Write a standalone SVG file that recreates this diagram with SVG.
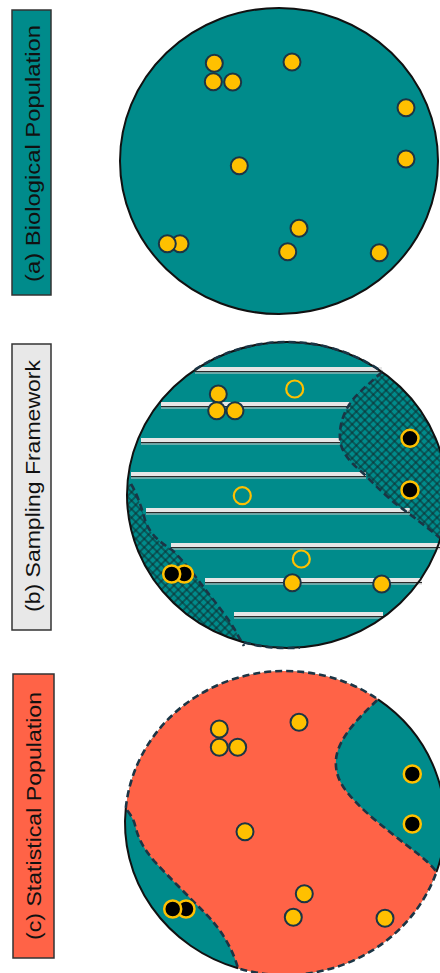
<svg xmlns="http://www.w3.org/2000/svg" width="440" height="973" viewBox="0 0 440 973">
<style>
.lbl{stroke:#333;stroke-width:1.5}
.lt{font-family:"Liberation Sans",Arial,sans-serif;font-size:20.5px;fill:#111;text-anchor:middle;dominant-baseline:central}
.teal{fill:#008b8b}
.edge{fill:none;stroke:#111;stroke-width:2}
.dash{fill:none;stroke:#1b3545;stroke-width:2.6;stroke-dasharray:7 4}
.red{fill:#ff6347;stroke:#1b3545;stroke-width:2.6;stroke-dasharray:7 4}
.g{fill:#ffc000;stroke:#1b3545;stroke-width:2}
.b{fill:#000;stroke:#ffc000;stroke-width:2.5}
.o{fill:none;stroke:#ffc000;stroke-width:2.2}
.bar{fill:#e6e6e6}
.bl{stroke:#2a2a2a;stroke-width:1.2}
.bl2{stroke:#cfcfcf;stroke-width:1}
</style>
<defs>
<pattern id="hatch" width="6" height="6" patternUnits="userSpaceOnUse" patternTransform="rotate(45)">
<path d="M0,3H6M3,0V6" stroke="#10282a" stroke-width="1"/>
</pattern>
<clipPath id="cb"><ellipse cx="287" cy="495" rx="160" ry="153"/></clipPath>
</defs>

<g id="label-a">
<rect class="lbl" x="12" y="10" width="39" height="285" fill="#008b8b"/>
<text class="lt" transform="translate(32,153.5) rotate(-90)" textLength="257" lengthAdjust="spacingAndGlyphs">(a) Biological Population</text>
</g>
<g id="label-b">
<rect class="lbl" x="12" y="344" width="39" height="286" fill="#e8e8e8"/>
<text class="lt" transform="translate(32,486) rotate(-90)" textLength="252" lengthAdjust="spacingAndGlyphs">(b) Sampling Framework</text>
</g>
<g id="label-c">
<rect class="lbl" x="13" y="674" width="41" height="284" fill="#ff6347"/>
<text class="lt" transform="translate(33.5,816) rotate(-90)" textLength="248" lengthAdjust="spacingAndGlyphs">(c) Statistical Population</text>
</g>

<g id="panel-a">
<ellipse class="teal" cx="279" cy="161" rx="159" ry="153" stroke="#111" stroke-width="2"/>
<circle class="g" cx="214.3" cy="63.3" r="8.5"/>
<circle class="g" cx="232.7" cy="82" r="8.5"/>
<circle class="g" cx="213.3" cy="81.7" r="8.5"/>
<circle class="g" cx="292" cy="62" r="8.5"/>
<circle class="g" cx="406" cy="107.7" r="8.5"/>
<circle class="g" cx="406" cy="159" r="8.5"/>
<circle class="g" cx="239.3" cy="165.7" r="8.5"/>
<circle class="g" cx="299" cy="228.3" r="8.5"/>
<circle class="g" cx="287.7" cy="251.7" r="8.5"/>
<circle class="g" cx="379.3" cy="252.7" r="8.5"/>
<circle class="g" cx="180" cy="243.7" r="8.5"/>
<circle class="g" cx="167.3" cy="243.7" r="8.5"/>
</g>

<g id="panel-b">
<ellipse class="teal" cx="287" cy="495" rx="160" ry="153"/>
<g id="stripes">
<rect class="bar" x="195" y="367" width="187" height="4"/><line class="bl" x1="195" y1="371.6" x2="382" y2="371.6"/><line class="bl2" x1="195" y1="373" x2="382" y2="373"/>
<rect class="bar" x="161" y="402" width="189" height="4"/><line class="bl" x1="161" y1="406.6" x2="350" y2="406.6"/><line class="bl2" x1="161" y1="408" x2="350" y2="408"/>
<rect class="bar" x="141" y="438" width="199" height="4"/><line class="bl" x1="141" y1="442.6" x2="340" y2="442.6"/><line class="bl2" x1="141" y1="444" x2="340" y2="444"/>
<rect class="bar" x="131" y="472" width="235" height="4"/><line class="bl" x1="131" y1="476.6" x2="366" y2="476.6"/><line class="bl2" x1="131" y1="478" x2="366" y2="478"/>
<rect class="bar" x="146" y="508" width="264" height="4"/><line class="bl" x1="146" y1="512.6" x2="410" y2="512.6"/><line class="bl2" x1="146" y1="514" x2="410" y2="514"/>
<rect class="bar" x="171" y="543" width="269" height="4"/><line class="bl" x1="171" y1="547.6" x2="440" y2="547.6"/><line class="bl2" x1="171" y1="549" x2="440" y2="549"/>
<rect class="bar" x="205" y="578" width="217" height="4"/><line class="bl" x1="205" y1="582.6" x2="422" y2="582.6"/><line class="bl2" x1="205" y1="584" x2="422" y2="584"/>
<rect class="bar" x="234" y="612" width="149" height="4"/><line class="bl" x1="234" y1="616.6" x2="383" y2="616.6"/><line class="bl2" x1="234" y1="618" x2="383" y2="618"/>
</g>
<g clip-path="url(#cb)">
<path fill="url(#hatch)" d="M382,372 C368,385 355,395 349,405 C341,418 338,432 341,445 C345,458 355,466 365,475 C377,487 388,498 400,507 C415,518 428,528 440,538 L460,538 L460,340 L382,340 Z"/>
<path fill="url(#hatch)" d="M131,484 C136,492 141,505 145,520 C150,535 160,542 172,550 C183,560 195,576 205,589 C215,602 228,618 235,630 C238,636 242,642 244,646 L244,660 L110,660 L110,484 Z"/>
</g>
<path class="dash" d="M382,372 C368,385 355,395 349,405 C341,418 338,432 341,445 C345,458 355,466 365,475 C377,487 388,498 400,507 C415,518 428,528 440,538"/>
<path class="dash" d="M131,484 C136,492 141,505 145,520 C150,535 160,542 172,550 C183,560 195,576 205,589 C215,602 228,618 235,630 C238,636 242,642 244,646"/>
<ellipse class="edge" cx="287" cy="495" rx="160" ry="153"/>
<path class="dash" d="M195,369.8 A160,153 0 0 1 382,371.9"/>
<path class="dash" d="M244,642.4 A160,153 0 0 0 300,647.5"/>
<circle class="g" cx="218.3" cy="394" r="8.5"/>
<circle class="g" cx="235" cy="410.7" r="8.5"/>
<circle class="g" cx="216.7" cy="410.7" r="8.5"/>
<circle class="g" cx="292.3" cy="582.7" r="8.5"/>
<circle class="g" cx="381.7" cy="584" r="8.5"/>
<circle class="o" cx="294.7" cy="389" r="8.5"/>
<circle class="o" cx="242.3" cy="495.7" r="8.5"/>
<circle class="o" cx="301.3" cy="559" r="8.5"/>
<circle class="b" cx="410" cy="438.3" r="8.5"/>
<circle class="b" cx="410" cy="490" r="8.5"/>
<circle class="b" cx="184.3" cy="574" r="8.5"/>
<circle class="b" cx="171.7" cy="574" r="8.5"/>
</g>

<g id="panel-c">
<ellipse class="teal" cx="285" cy="823" rx="160" ry="152"/>
<path class="red" d="M125.8,808 A160,152 0 0 1 378,699.3 C365,712 345,730 338,750 C333,765 337,780 347,792 C358,806 372,818 395,836 C412,850 428,860 436.5,872 A160,152 0 0 1 238,968.3 C233,950 222,930 205,913 C190,898 170,878 155,862 C143,848 138,838 135,825 C133,817 128,812 125.8,808 Z"/>
<path class="edge" d="M378,699.3 A160,152 0 0 1 436.5,872"/>
<path class="edge" d="M125.8,808 A160,152 0 0 0 238,968.3"/>
<circle class="g" cx="219.3" cy="729" r="8.5"/>
<circle class="g" cx="237.7" cy="747.3" r="8.5"/>
<circle class="g" cx="219.3" cy="747.3" r="8.5"/>
<circle class="g" cx="299" cy="722.3" r="8.5"/>
<circle class="g" cx="245" cy="831.7" r="8.5"/>
<circle class="g" cx="304.3" cy="893.7" r="8.5"/>
<circle class="g" cx="293.3" cy="917.3" r="8.5"/>
<circle class="g" cx="385" cy="918.3" r="8.5"/>
<circle class="b" cx="412.3" cy="774" r="8.5"/>
<circle class="b" cx="412.3" cy="824" r="8.5"/>
<circle class="b" cx="186" cy="909" r="8.5"/>
<circle class="b" cx="172.7" cy="909" r="8.5"/>
</g>
</svg>
